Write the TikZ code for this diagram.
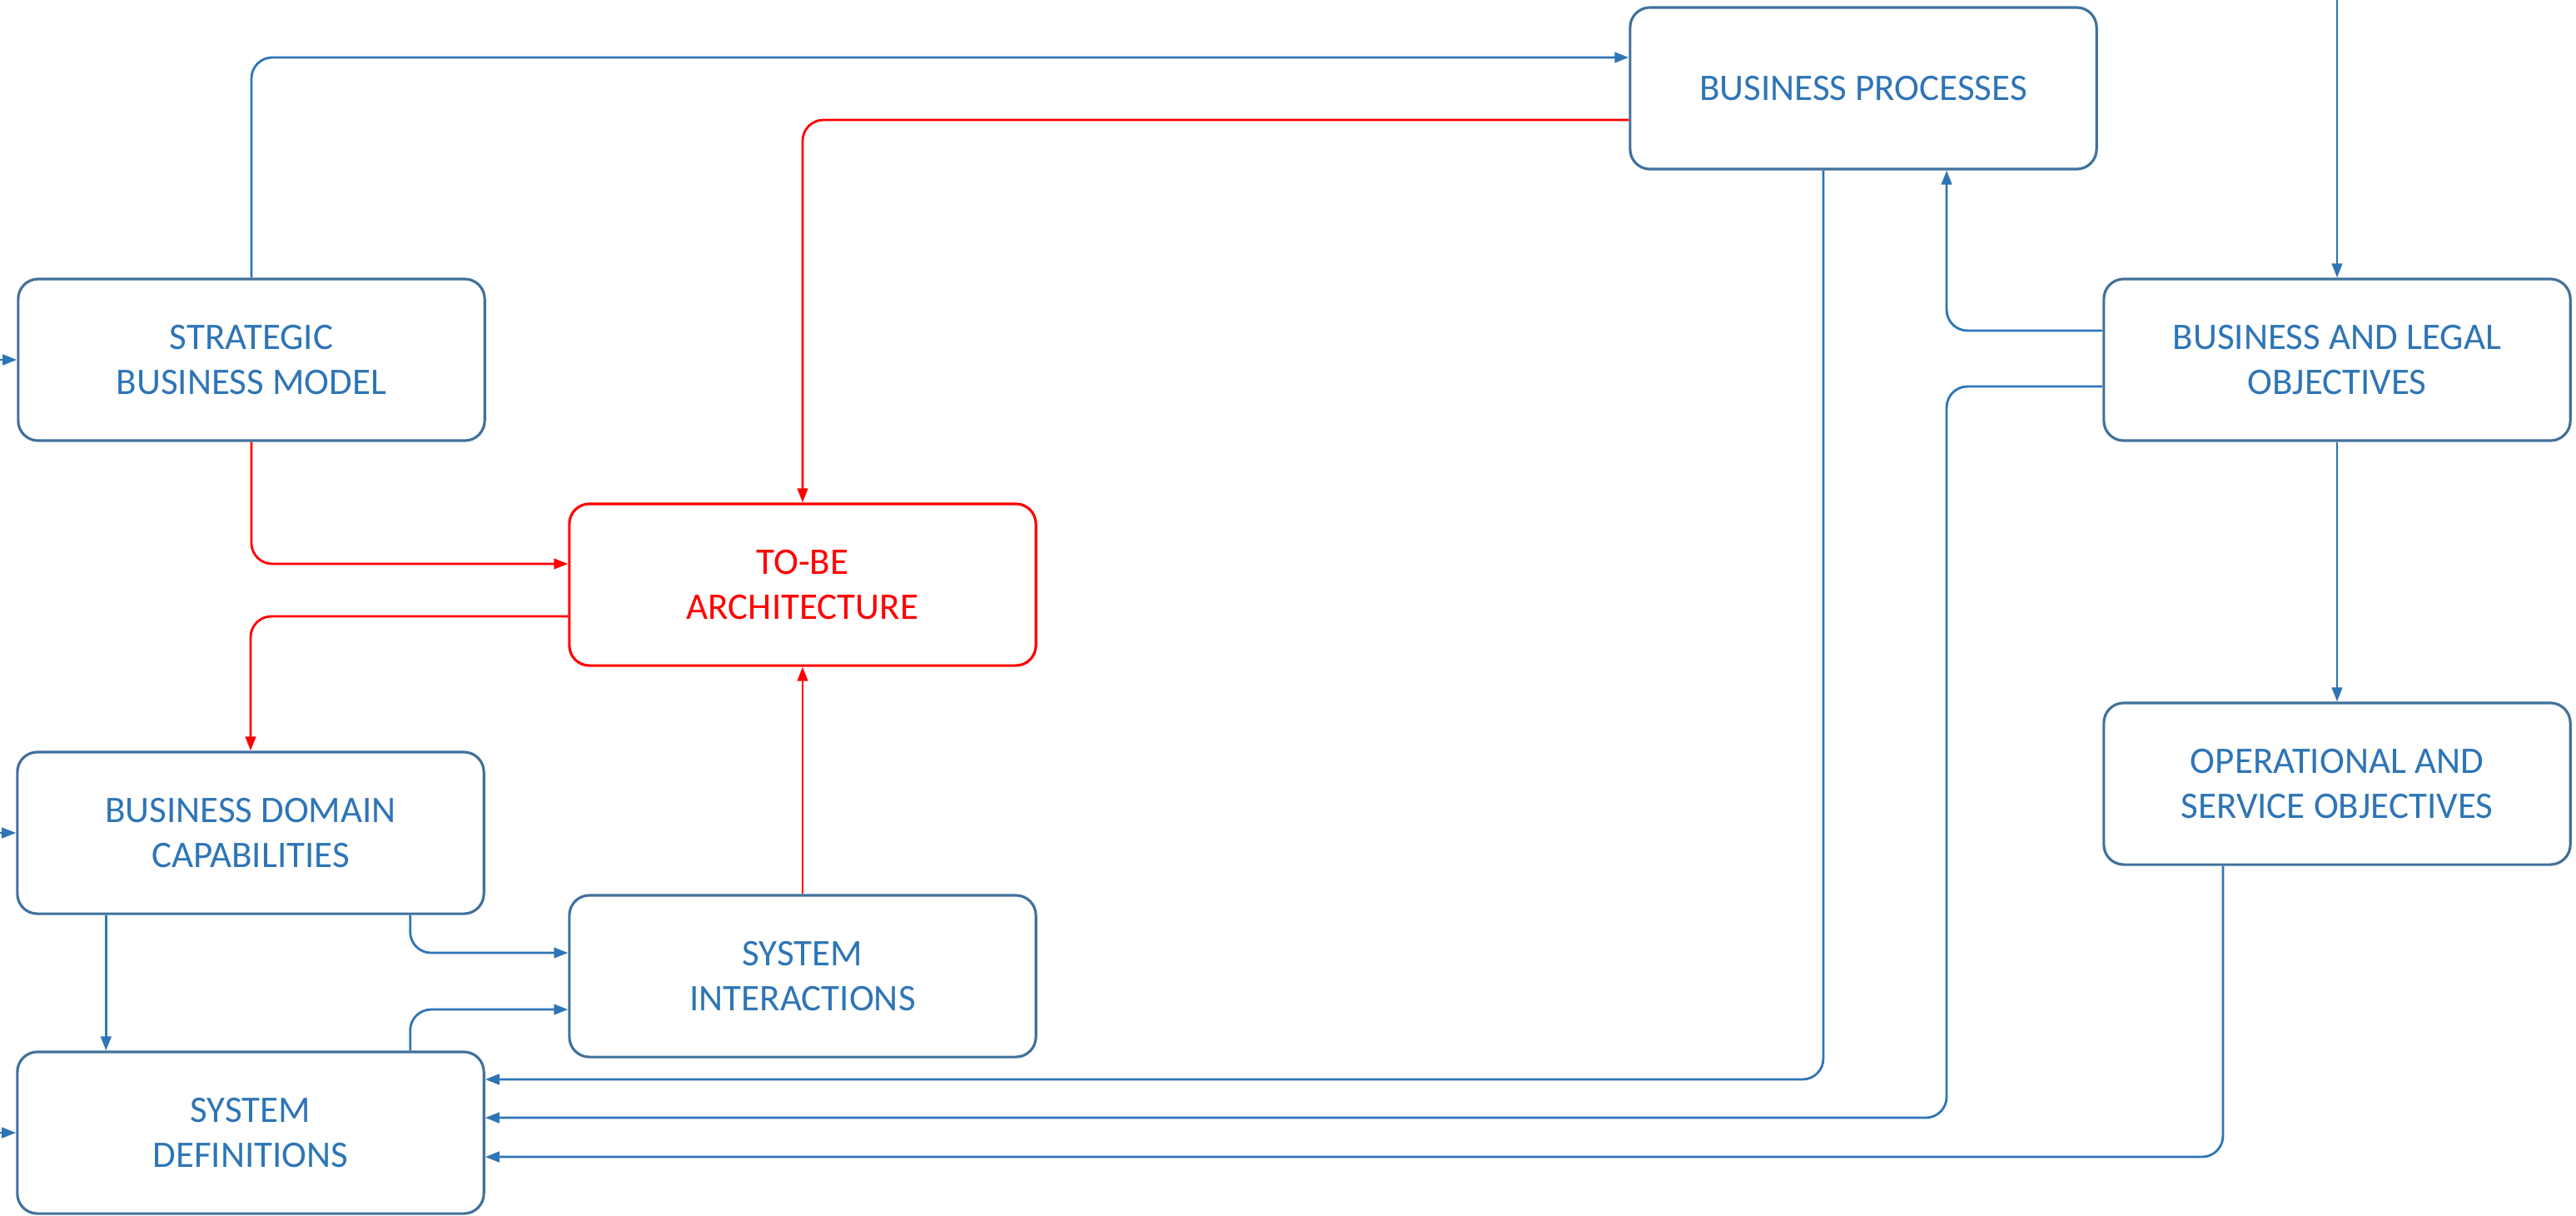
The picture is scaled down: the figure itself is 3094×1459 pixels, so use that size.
\documentclass[tikz,border=0pt]{standalone}
\usepackage{fontspec}
\setmainfont{Carlito}
\usetikzlibrary{arrows.meta,calc}
\definecolor{boxcolor}{RGB}{65,113,156}
\definecolor{bluecolor}{RGB}{46,117,182}
\definecolor{redcolor}{RGB}{255,0,0}

\begin{document}
\begin{tikzpicture}[x=0.01cm, y=-0.01cm,
    block/.style={draw=boxcolor, line width=0.9pt, rounded corners=2.4mm, minimum width=5.6cm, minimum height=1.94cm, align=center, text=bluecolor, inner sep=0pt, font=\fontsize{12.8}{15.4}\selectfont},
    redblock/.style={block, draw=redcolor, text=redcolor},
    flow/.style={draw=bluecolor, line width=0.8pt, rounded corners=2.5mm, -{Triangle[length=1.7mm,width=1.25mm]}},
    redflow/.style={flow, draw=redcolor}]
    \useasboundingbox (0,0) rectangle (3094,1459);

    % Left column
    \node[block] (sbm) at (302, 432) {STRATEGIC\\BUSINESS MODEL};
    \node[block] (bdc) at (301, 1000) {BUSINESS DOMAIN\\CAPABILITIES};
    \node[block] (sd) at (301, 1360) {SYSTEM\\DEFINITIONS};

    % Middle column
    \node[redblock] (tba) at (964, 702) {TO-BE\\ARCHITECTURE};
    \node[block] (si) at (964, 1172) {SYSTEM\\INTERACTIONS};

    % Right side
    \node[block] (bp) at (2238, 106) {BUSINESS PROCESSES};
    \node[block] (blo) at (2807, 432) {BUSINESS AND LEGAL\\OBJECTIVES};
    \node[block] (oso) at (2807, 941) {OPERATIONAL AND\\SERVICE OBJECTIVES};

    % Inputs from outside
    \foreach \n in {sbm,bdc,sd} {
        \draw[flow] ([xshift=-2.2mm]\n.west) -- (\n.west);
    }
    \draw[flow] ([yshift=3.35cm]blo.north) -- (blo.north);

    % Red links around the to-be architecture
    \draw[redflow] ([yshift=-3.8mm]bp.west) -| (tba.north);
    \draw[redflow] (sbm.south) |- ([yshift=2.5mm]tba.west);
    \draw[redflow] ([yshift=-3.8mm]tba.west) -| (bdc.north);
    \draw[redflow] (si.north) -- (tba.south);

    % Blue links
    \draw[flow] (sbm.north) |- ([yshift=3.7mm]bp.west);
    \draw[flow] ([xshift=10.8mm]bdc.south west) -- ([xshift=10.8mm]sd.north west);
    \draw[flow] ([xshift=-9mm]bdc.south east) |- ([yshift=2.8mm]si.west);
    \draw[flow] ([xshift=-9mm]sd.north east) |- ([yshift=-4mm]si.west);
    \draw[flow] ([yshift=3.5mm]blo.west) -| ([xshift=10mm]bp.south);
    \draw[flow] (blo.south) -- (oso.north);

    % Links into the system definitions
    \draw[flow] ([xshift=-4.8mm]bp.south) |- ([yshift=6.4mm]sd.east);
    \draw[flow] ([yshift=-3.2mm]blo.west) -| ($(bp.south |- sd.east)+(10mm,1.8mm)$) -- ([yshift=1.8mm]sd.east);
    \draw[flow] ([xshift=-13.7mm]oso.south) |- ([yshift=-2.9mm]sd.east);
\end{tikzpicture}
\end{document}
